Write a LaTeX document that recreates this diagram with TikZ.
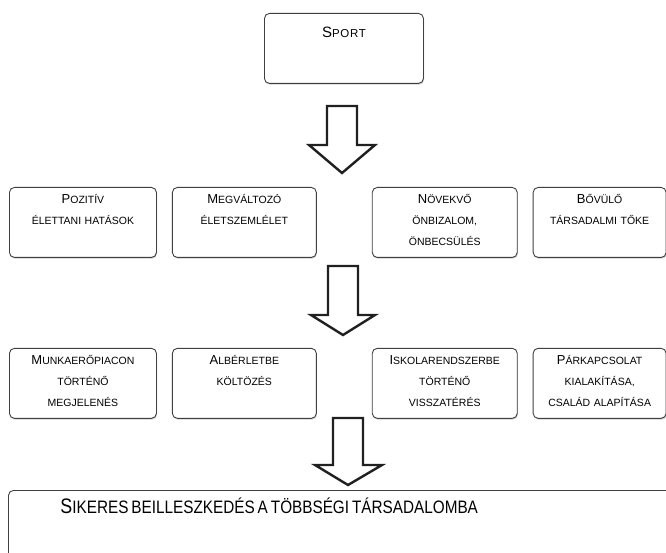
\documentclass[tikz,border=0pt]{standalone}
\usepackage{fontspec}
\setmainfont{Liberation Sans}
\usetikzlibrary{positioning, shadows}
\newcommand{\bigini}[1]{{\fontsize{13}{21}\selectfont #1}}

\begin{document}
\begin{tikzpicture}[
    x=1pt, y=1pt,
    % Styles
    card/.style={rectangle, draw=gray!50!black, fill=white, rounded corners=5pt, line width=0.9pt, drop shadow={shadow xshift=0.6pt, shadow yshift=-1.3pt, fill=gray!75}, inner xsep=2pt, inner ysep=4pt, text height=12pt, text depth=50pt, align=center, font=\fontsize{10.5}{21}\selectfont},
    blockarrow/.style={draw=gray!25!black, line width=2.4pt, fill=white, line join=miter}
]
\clip (0,0) rectangle (666,552);
\fill[white] (0,0) rectangle (666,552);

% 1. SPORT
\node[card, anchor=north west, text width=155pt, text height=20pt, text depth=42pt, font=\fontsize{11.5}{21}\selectfont\addfontfeature{LetterSpace=6}] (sport) at (264,539) {{\fontsize{15}{21}\selectfont S}PORT};

% 2. HATASOK
\node[card, anchor=north west, text width=143pt] (elet) at (9,365) {\bigini{P}OZITÍV\\ÉLETTANI HATÁSOK};
\node[card, text width=140pt, right=15pt of elet] (szemlelet) {\bigini{M}EGVÁLTOZÓ\\ÉLETSZEMLÉLET};
\node[card, text width=141pt, right=55pt of szemlelet] (onbizalom) {\bigini{N}ÖVEKVŐ\\ÖNBIZALOM,\\ÖNBECSÜLÉS};
\node[card, text width=129pt, right=15pt of onbizalom] (toke) {\bigini{B}ŐVÜLŐ\\TÁRSADALMI TŐKE};

% 3. LEPESEK
\node[card, text width=143pt, below=90pt of elet] (munka) {\bigini{M}UNKAERŐPIACON\\TÖRTÉNŐ\\MEGJELENÉS};
\node[card, text width=140pt, right=15pt of munka] (alberlet) {\bigini{A}LBÉRLETBE\\KÖLTÖZÉS};
\node[card, text width=141pt, right=55pt of alberlet] (iskola) {\bigini{I}SKOLARENDSZERBE\\TÖRTÉNŐ\\VISSZATÉRÉS};
\node[card, text width=129pt, right=15pt of iskola] (csalad) {\bigini{P}ÁRKAPCSOLAT\\KIALAKÍTÁSA,\\CSALÁD ALAPÍTÁSA};

% 4. EREDMENY
\node[card, anchor=north west, text width=620pt, inner xsep=52pt, align=left, text height=19pt, text depth=80pt] (siker) at (8,62) {\scalebox{0.85}[1]{\fontsize{18}{21}\selectfont{\fontsize{21}{21}\selectfont S}IKERES BEILLESZKEDÉS A TÖBBSÉGI TÁRSADALOMBA}};

% BLOCK ARROWS
\draw[blockarrow] (327,446) -- (357,446) -- (357,407) -- (375,407) -- (342,379) -- (309,407) -- (327,407) -- cycle;
\draw[blockarrow] (328,286) -- (358,286) -- (358,237) -- (375,237) -- (343,217) -- (311,237) -- (328,237) -- cycle;
\draw[blockarrow] (333,134) -- (363,134) -- (363,87) -- (382,87) -- (348,67) -- (315,87) -- (333,87) -- cycle;

\end{tikzpicture}
\end{document}
